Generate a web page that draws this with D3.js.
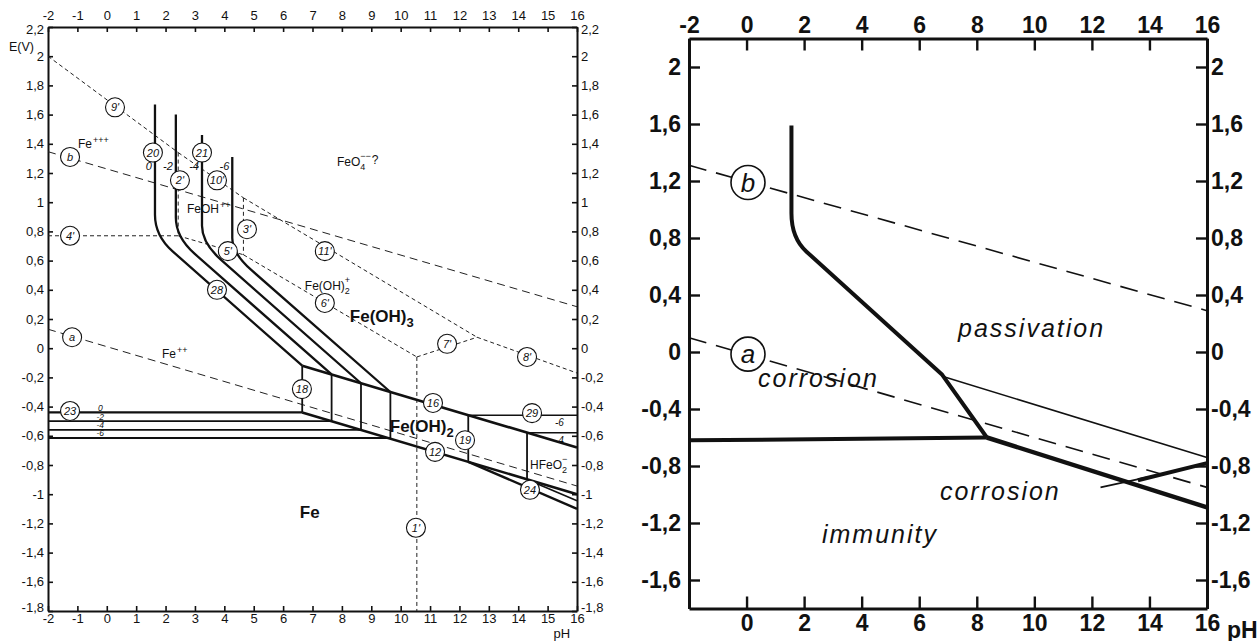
<!DOCTYPE html>
<html><head><meta charset="utf-8">
<script src="https://cdn.jsdelivr.net/npm/d3@7"></script>
<style>
body{margin:0;background:#fff;}
svg{display:block;}
text{font-family:"Liberation Sans",Arial,sans-serif;fill:#111;}
</style></head><body>
<svg id="chart" width="1260" height="641"></svg>
<script>
// ================= DATA =================
// ---- Left diagram (full Pourbaix) ----
const pHTicksL = [-2,-1,0,1,2,3,4,5,6,7,8,9,10,11,12,13,14,15,16];
const eTicksL = [2.2,2,1.8,1.6,1.4,1.2,1,0.8,0.6,0.4,0.2,0,-0.2,-0.4,-0.6,-0.8,-1,-1.2,-1.4,-1.6,-1.8];
// Fe+++ / Fe(OH)3 verticals bending into Fe++ / Fe(OH)3 diagonals (pH, E)
const fe3Curves = [
  {log:"0",  ph:1.64, top:1.67, corner:0.77, endPh:6.65, endE:-0.12},
  {log:"-2", ph:2.35, top:1.60, corner:0.76, endPh:7.65, endE:-0.18},
  {log:"-4", ph:3.24, top:1.46, corner:0.72, endPh:8.65, endE:-0.24},
  {log:"-6", ph:4.27, top:1.31, corner:0.65, endPh:9.65, endE:-0.30}
];
// Fe++ / Fe(OH)2 verticals (line 18) and Fe/Fe++ horizontals (line 23)
const fe2Verticals = [
  {log:"0",  ph:6.65, top:-0.12, bot:-0.44},
  {log:"-2", ph:7.65, top:-0.18, bot:-0.50},
  {log:"-4", ph:8.65, top:-0.24, bot:-0.56},
  {log:"-6", ph:9.65, top:-0.30, bot:-0.615}
];
const line16 = [[6.65,-0.12],[16,-0.68]];
const line12 = [[6.65,-0.44],[16,-1.0]];
const line19 = [{ph:12.3, top:-0.459, bot:-0.779},{ph:14.3, top:-0.579, bot:-0.899}];
const line29 = [{log:"-6", ph:12.3, E:-0.459},{log:"-4", ph:14.3, E:-0.579}];
const line24 = [[[12.3,-0.779],[16,-1.10]],[[14.3,-0.899],[16,-1.045]]];
// dashed boundaries of dissolved species
const dashedL = [
  [[-2,2.0],[2.43,1.34]],
  [[2.43,1.34],[2.43,0.77]],
  [[-2,0.77],[2.43,0.77]],
  [[2.43,0.77],[4.65,0.64]],
  [[2.43,1.34],[4.65,1.03]],
  [[4.65,1.03],[4.65,0.64]],
  [[4.65,1.03],[12.6,0.075]],
  [[4.65,0.64],[10.55,-0.06]],
  [[10.55,-0.06],[12.6,0.075]],
  [[12.6,0.075],[16,-0.17]],
  [[10.55,-0.06],[10.55,-1.8]]
];
const waterL = [ [[-2,0.13],[16,-0.944]], [[-2,1.346],[16,0.284]] ];
const circlesL = [
  ["9'",0.28,1.65],["b",-1.25,1.31],["20",1.57,1.34],["2'",2.49,1.15],["21",3.24,1.34],
  ["10'",3.75,1.15],["4'",-1.25,0.77],["3'",4.77,0.815],["5'",4.12,0.665],["28",3.75,0.40],
  ["11'",7.42,0.665],["6'",7.42,0.31],["7'",11.58,0.03],["8'",14.3,-0.06],["a",-1.18,0.075],
  ["18",6.64,-0.28],["23",-1.25,-0.43],["16",11.1,-0.375],["12",11.17,-0.71],["19",12.19,-0.63],
  ["29",14.47,-0.445],["24",14.4,-0.97],["1'",10.52,-1.23]
];
// species labels: [main, sub, sup, tail, pH, E, bold]
const speciesL = [
  ["Fe","","+++","",-0.98,1.37,false],
  ["FeOH","","++","",2.73,0.925,false],
  ["FeO","4","−−","?",7.83,1.245,false],
  ["Fe(OH)","2","+","",6.74,0.40,false],
  ["Fe(OH)","3","","",8.27,0.18,true],
  ["Fe","","++","",1.88,-0.07,false],
  ["Fe(OH)","2","","",9.63,-0.575,true],
  ["HFeO","2","−","",14.4,-0.83,false],
  ["Fe","","","",6.57,-1.16,true]
];

// ---- Right diagram (simplified) ----
const pHTopR = [-2,0,2,4,6,8,10,12,14,16];
const pHBotR = [0,2,4,6,8,10,12,14,16];
const eTicksR = [2,1.6,1.2,0.8,0.4,0,-0.4,-0.8,-1.2,-1.6];
const passivationEdge = [[1.56,1.59],[1.56,0.80],[6.8,-0.16],[8.35,-0.6]];
const immunityTop = [[-2,-0.62],[8.35,-0.6]];
const immunityLow = [[8.35,-0.6],[16,-1.09]];
const thinEdge = [[6.8,-0.17],[16,-0.74]];
const smallCorr = [[13.6,-0.9],[16,-0.78]];
const pointer = [[12.3,-0.95],[13.9,-0.88]];
const waterR = [ {id:"a", pts:[[-2,0.1],[16,-0.95]], lab:[0.05,-0.015]},
                 {id:"b", pts:[[-2,1.31],[16,0.29]], lab:[0.05,1.19]} ];
const regionsR = [["passivation",7.35,0.105],["corrosion",0.4,-0.245],["corrosion",6.72,-1.04],["immunity",2.62,-1.34]];

// ================= DRAW =================
const svg = d3.select("#chart");
const fmt = d => (d < 0 ? "-" : "") + String(Math.abs(d)).replace(".", ",");

// ---------- Left ----------
const xL = d3.scaleLinear([-2,16],[48,577]);
const yL = d3.scaleLinear([-1.8,2.2],[611,27]);
const gL = svg.append("g");
const lineL = d3.line().x(d=>xL(d[0])).y(d=>yL(d[1]));

function styleAxis(g, sw, fs){
  g.select(".domain").attr("stroke","#111").attr("stroke-width",sw);
  g.selectAll(".tick line").attr("stroke","#111").attr("stroke-width",sw*0.8);
  g.selectAll(".tick text").attr("fill","#111").style("font-size",fs+"px")
   .style("font-family","'Liberation Sans',Arial,sans-serif");
}
const nudgeEnds = g => {
  g.selectAll(".tick text").filter(d=>d===2.2).attr("dy","0.5em");
  g.selectAll(".tick text").filter(d=>d===-1.8).attr("dy","0.05em");
};
gL.append("g").attr("transform",`translate(0,${yL(2.2)})`)
  .call(d3.axisTop(xL).tickValues(pHTicksL).tickFormat(fmt).tickSizeInner(-5).tickSizeOuter(0).tickPadding(7))
  .call(g=>styleAxis(g,2,13));
gL.append("g").attr("transform",`translate(0,${yL(-1.8)})`)
  .call(d3.axisBottom(xL).tickValues(pHTicksL).tickFormat(fmt).tickSizeInner(-5).tickSizeOuter(0).tickPadding(3))
  .call(g=>styleAxis(g,2,13));
gL.append("g").attr("transform",`translate(${xL(-2)},0)`)
  .call(d3.axisLeft(yL).tickValues(eTicksL).tickFormat(fmt).tickSizeInner(-5).tickSizeOuter(0).tickPadding(4))
  .call(g=>styleAxis(g,2,13)).call(nudgeEnds);
gL.append("g").attr("transform",`translate(${xL(16)},0)`)
  .call(d3.axisRight(yL).tickValues(eTicksL).tickFormat(fmt).tickSizeInner(-5).tickSizeOuter(0).tickPadding(4))
  .call(g=>styleAxis(g,2,13)).call(nudgeEnds);
gL.append("text").attr("x",xL(-2)-39).attr("y",yL(2.035)).style("font-size","12.5px").text("E(V)");
gL.append("text").attr("x",xL(15.2)).attr("y",yL(-1.8)+27).style("font-size","13px").text("pH");

// dashed
gL.selectAll(".dl").data(dashedL).join("path").attr("d",lineL)
  .attr("fill","none").attr("stroke","#222").attr("stroke-width",1).attr("stroke-dasharray","4,3");
gL.selectAll(".wl").data(waterL).join("path").attr("d",lineL)
  .attr("fill","none").attr("stroke","#222").attr("stroke-width",1).attr("stroke-dasharray","8,5");

// curves with rounded corner
function bend(p0, pc, p2, xs, ys, t1, t2){
  const P = p=>[xs(p[0]),ys(p[1])];
  const a=P(p0), c=P(pc), b=P(p2);
  const s=[c[0]+(a[0]-c[0])*t1, c[1]+(a[1]-c[1])*t1];
  const e=[c[0]+(b[0]-c[0])*t2, c[1]+(b[1]-c[1])*t2];
  return `M${a}L${s}Q${c} ${e}L${b}`;
}
gL.selectAll(".fc").data(fe3Curves).join("path")
  .attr("d",d=>bend([d.ph,d.top],[d.ph,d.corner],[d.endPh,d.endE],xL,yL,0.16,0.12))
  .attr("fill","none").attr("stroke","#111").attr("stroke-width",2.3);
gL.selectAll(".fcl").data(fe3Curves).join("text")
  .attr("x",d=>xL(d.ph)-3).attr("y",yL(1.22)).attr("text-anchor","end")
  .style("font-size","11px").style("font-style","italic").text(d=>d.log);

const thick = (d,w)=>gL.append("path").attr("d",lineL(d)).attr("fill","none").attr("stroke","#111").attr("stroke-width",w);
fe2Verticals.forEach(v=>{
  thick([[v.ph,v.top],[v.ph,v.bot]],1.8);
  thick([[-2,v.bot],[v.ph,v.bot]], v.log==="0"?2.2:1.8);
  gL.append("text").attr("x",xL(-0.22)).attr("y",yL(v.bot)-1.6).attr("text-anchor","middle")
    .style("font-size","8.5px").style("font-style","italic").text(v.log);
});
thick(line16,2.6);
thick(line12,2.6);
line19.forEach(v=>thick([[v.ph,v.top],[v.ph,v.bot]],1.8));
line29.forEach(v=>{
  thick([[v.ph,v.E],[16,v.E]],1.6);
  gL.append("text").attr("x",xL(15.4)).attr("y",yL(v.E)+11).attr("text-anchor","middle")
    .style("font-size","10px").style("font-style","italic").text(v.log);
});
thick(line24[0],2.4);
thick(line24[1],1.6);

// circles
const cg = gL.selectAll(".cl").data(circlesL).join("g").attr("transform",d=>`translate(${xL(d[1])},${yL(d[2])})`);
cg.append("circle").attr("r",9.5).attr("fill","#fff").attr("stroke","#111").attr("stroke-width",1.1);
cg.append("text").attr("text-anchor","middle").attr("dy","0.36em").style("font-size","11px").style("font-style","italic").text(d=>d[0]);

// species
speciesL.forEach(s=>{
  const t = gL.append("text").attr("x",xL(s[4])).attr("y",yL(s[5]))
    .style("font-size", s[6]?"17px":"12px").style("font-weight", s[6]?"bold":"normal");
  t.append("tspan").text(s[0]);
  if(s[1]) t.append("tspan").attr("dy", s[6]?5:4).style("font-size", s[6]?"13px":"9px").text(s[1]);
  if(s[2]) t.append("tspan").attr("dx", s[1]?-5:1).attr("dy", s[1]?-11:-5).style("font-size","9px").text(s[2]);
  if(s[3]) t.append("tspan").attr("dx",1).attr("dy", 5).text(s[3]);
});

// ---------- Right ----------
const xR = d3.scaleLinear([-2,16],[689,1207]);
const yR = d3.scaleLinear([-1.8,2.2],[608.5,38.5]);
const gR = svg.append("g");
const lineR = d3.line().x(d=>xR(d[0])).y(d=>yR(d[1]));
gR.append("g").attr("transform",`translate(0,${yR(2.2)})`)
  .call(d3.axisTop(xR).tickValues(pHTopR).tickFormat(fmt).tickSizeInner(-12).tickSizeOuter(0).tickPadding(6))
  .call(g=>styleAxis(g,3,23)).call(g=>g.selectAll(".tick text").style("font-weight","bold"));
gR.append("g").attr("transform",`translate(0,${yR(-1.8)})`)
  .call(d3.axisBottom(xR).tickValues(pHBotR).tickFormat(fmt).tickSizeInner(-12).tickSizeOuter(0).tickPadding(6))
  .call(g=>styleAxis(g,3,23)).call(g=>g.selectAll(".tick text").style("font-weight","bold"));
gR.append("text").attr("x",xR(16)+20).attr("y",yR(-1.8)+29).style("font-size","23px").style("font-weight","bold").text("pH");
gR.append("g").attr("transform",`translate(${xR(-2)},0)`)
  .call(d3.axisLeft(yR).tickValues(eTicksR).tickFormat(fmt).tickSizeInner(-11).tickSizeOuter(0).tickPadding(8))
  .call(g=>styleAxis(g,3,23)).call(g=>g.selectAll(".tick text").style("font-weight","bold"));
gR.append("g").attr("transform",`translate(${xR(16)},0)`)
  .call(d3.axisRight(yR).tickValues(eTicksR).tickFormat(fmt).tickSizeInner(-11).tickSizeOuter(0).tickPadding(4))
  .call(g=>styleAxis(g,3,23)).call(g=>g.selectAll(".tick text").style("font-weight","bold"));

waterR.forEach(w=>{
  gR.append("path").attr("d",lineR(w.pts)).attr("fill","none").attr("stroke","#111")
    .attr("stroke-width",1.6).attr("stroke-dasharray","18,10");
  const c = gR.append("g").attr("transform",`translate(${xR(w.lab[0])},${yR(w.lab[1])})`);
  c.append("circle").attr("r",17).attr("fill","#fff").attr("stroke","#111").attr("stroke-width",1.6);
  c.append("text").attr("text-anchor","middle").attr("dy","0.35em").style("font-size","26px").style("font-style","italic").text(w.id);
});
const pe = passivationEdge;
gR.append("path").attr("d", bend(pe[0],pe[1],pe[2],xR,yR,0.22,0.1) + "L" + [xR(pe[3][0]),yR(pe[3][1])])
  .attr("fill","none").attr("stroke","#111").attr("stroke-width",4).attr("stroke-linejoin","round");
[[immunityTop,4],[immunityLow,4.5],[thinEdge,1.6],[smallCorr,4],[pointer,1.6]].forEach(([d,w])=>
  gR.append("path").attr("d",lineR(d)).attr("fill","none").attr("stroke","#111").attr("stroke-width",w));
gR.selectAll(".rl").data(regionsR).join("text").attr("x",d=>xR(d[1])).attr("y",d=>yR(d[2]))
  .style("font-size","25px").style("font-style","italic").style("letter-spacing","2px").text(d=>d[0]);
</script></body></html>
